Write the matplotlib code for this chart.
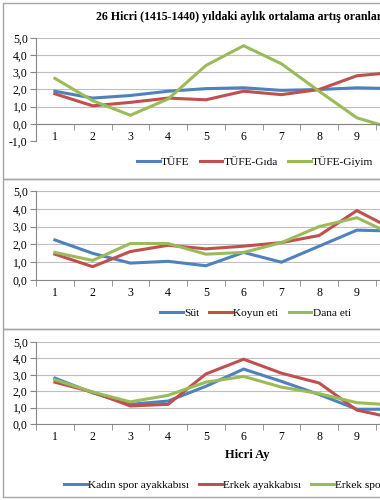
import matplotlib
matplotlib.use("Agg")
import matplotlib.pyplot as plt
from matplotlib.patches import Rectangle
from matplotlib.ticker import FuncFormatter, FixedLocator

months = [1, 2, 3, 4, 5, 6, 7, 8, 9, 10]

tufe = [1.9, 1.5, 1.65, 1.9, 2.05, 2.1, 1.95, 2.0, 2.1, 2.05]
tufe_gida = [1.75, 1.05, 1.25, 1.5, 1.4, 1.9, 1.7, 2.0, 2.8, 3.0]
tufe_giyim = [2.65, 1.35, 0.5, 1.45, 3.4, 4.55, 3.5, 1.9, 0.35, -0.3]

sut = [2.25, 1.5, 0.95, 1.05, 0.8, 1.55, 1.0, 1.9, 2.8, 2.75]
koyun = [1.45, 0.75, 1.6, 1.95, 1.75, 1.9, 2.1, 2.5, 3.9, 2.8]
dana = [1.55, 1.1, 2.05, 2.05, 1.45, 1.55, 2.1, 3.0, 3.5, 2.5]

kadin_spor = [2.8, 1.9, 1.2, 1.4, 2.3, 3.35, 2.6, 1.8, 0.9, 0.9]
erkek_ayak = [2.55, 1.95, 1.1, 1.2, 3.05, 3.95, 3.1, 2.5, 0.85, 0.35]
erkek_spor = [2.7, 1.95, 1.35, 1.75, 2.55, 2.9, 2.25, 1.85, 1.3, 1.15]

title = "26 Hicri (1415-1440) yıldaki aylık ortalama artış oranları"
colors = ["#4F81BD", "#C0504D", "#9BBB59"]

plt.rcParams['font.family'] = ['Liberation Serif', 'DejaVu Serif']
fs = 8.5
W, H = 380, 500
fig = plt.figure(figsize=(W / 100, H / 100), dpi=100)


def fx(px):
    return px / W


def fy(py):
    return 1 - py / H


comma = FuncFormatter(lambda v, p: f"{v:.1f}".replace('.', ','))

panels = [
    dict(top=38, bot=141, ylim=(-1, 5), series=[tufe, tufe_gida, tufe_giyim],
         labels=["TÜFE", "TÜFE-Gıda", "TÜFE-Giyim"], leg=(137, 162), box=(3, 179)),
    dict(top=191, bot=280, ylim=(0, 5), series=[sut, koyun, dana],
         labels=["Süt", "Koyun eti", "Dana eti"], leg=(160, 313), box=(179, 329)),
    dict(top=342, bot=424, ylim=(0, 5), series=[kadin_spor, erkek_ayak, erkek_spor],
         labels=["Kadın spor ayakkabısı", "Erkek ayakkabısı", "Erkek spor ayakkabısı"],
         leg=(64, 485), box=(329, 497)),
]

for i, p in enumerate(panels):
    # panel frame (runs off the right edge like the cropped original)
    fig.add_artist(Rectangle((fx(3), fy(p['box'][1])), 1.2, fy(p['box'][0]) - fy(p['box'][1]),
                             transform=fig.transFigure, fill=False, ec="#A6A6A6", lw=1))
    left = 36
    width = 10 * 37.75
    ax = fig.add_axes([fx(left), fy(p['bot']), fx(width), fy(p['top']) - fy(p['bot'])])
    for s, lab, c in zip(p['series'], p['labels'], colors):
        ax.plot(months, s, color=c, lw=2.2, label=lab, solid_joinstyle='miter')
    ax.set_xlim(0.5, 10.5)
    ax.set_ylim(*p['ylim'])
    ax.set_yticks(range(p['ylim'][0], 6))
    ax.yaxis.set_major_formatter(comma)
    ax.grid(axis='y', color="#BFBFBF", lw=0.8)
    ax.set_axisbelow(True)
    for sp in ['top', 'right']:
        ax.spines[sp].set_visible(False)
    ax.spines['left'].set_color("#868686")
    ax.spines['bottom'].set_color("#868686")
    ax.spines['bottom'].set_position(('data', 0))
    ax.set_xticks(months[:9])
    ax.xaxis.set_minor_locator(FixedLocator([m + 0.5 for m in range(0, 10)]))
    ax.tick_params(axis='x', which='major', length=0, pad=5, labelsize=fs)
    ax.tick_params(axis='x', which='minor', length=4, color="#868686", direction='out')
    ax.tick_params(axis='y', length=4, color="#868686", pad=2, labelsize=fs)
    ax.legend(loc='center left', bbox_to_anchor=(fx(p['leg'][0]), fy(p['leg'][1])),
              bbox_transform=fig.transFigure, ncol=3, frameon=False, fontsize=8.2,
              handlelength=2.0, handletextpad=0.1, columnspacing=0.9,
              borderpad=0, borderaxespad=0)
    if i == 2:
        fig.text(fx(247), fy(455), "Hicri Ay", fontsize=9, fontweight='bold',
                 ha='center', va='center')

fig.text(fx(96), fy(17), title, fontsize=8.6, fontweight='bold', ha='left', va='center')

fig.savefig("out.png", dpi=100)
